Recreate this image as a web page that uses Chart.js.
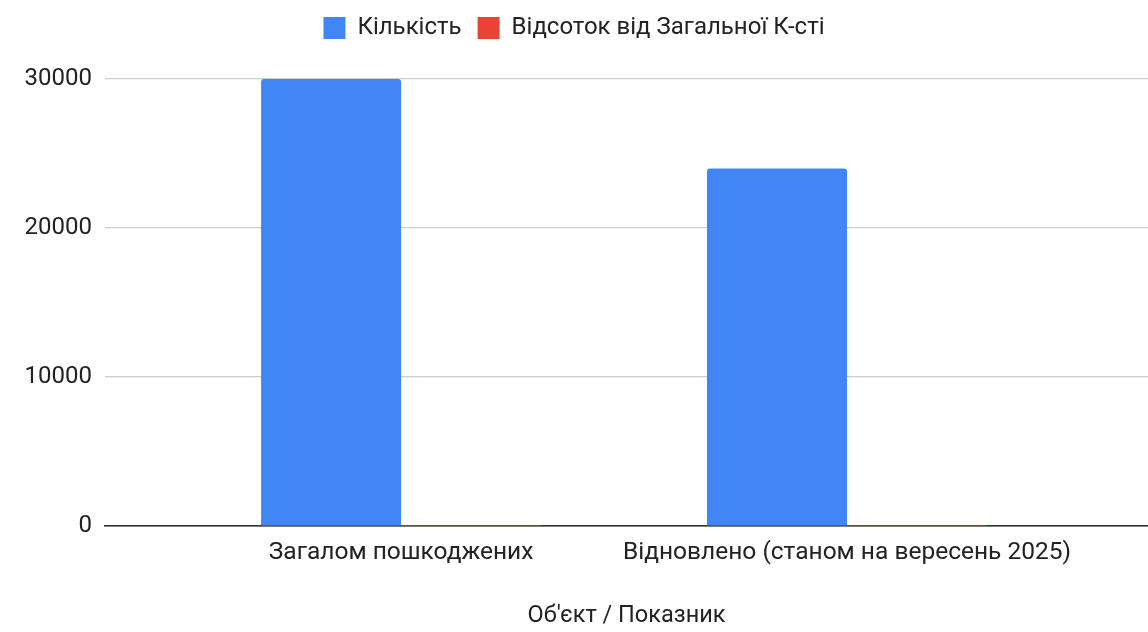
<!DOCTYPE html>
<html>
<head>
<meta charset="utf-8">
<script src="https://cdn.jsdelivr.net/npm/chart.js@4.4.1/dist/chart.umd.min.js"></script>
<style>
  html, body { margin: 0; padding: 0; background: #fff; }
  #wrap { width: 1148px; height: 632px; }
</style>
</head>
<body>
<div id="wrap"><canvas id="chart"></canvas></div>
<script>
// Damaged vs restored objects
var categories = ['Загалом пошкоджених', 'Відновлено (станом на вересень 2025)'];
var countValues = [30000, 24000];
var shareValues = [1, 0.8];
var yTicks = [0, 10000, 20000, 30000];
var seriesNames = ['Кількість', 'Відсоток від Загальної К-сті'];
var axisTitle = 'Об\'єкт / Показник';

var FONT = 'Roboto, "Noto Sans", sans-serif';

// keep the legend band a fixed height so the plot starts at the same place
var legendBand = {
    id: 'legendBand',
    beforeInit: function(chart) {
        var fit = chart.legend.fit;
        chart.legend.fit = function() {
            fit.bind(chart.legend)();
            this.height = 79;
        };
    }
};

var ctx = document.getElementById('chart').getContext('2d');

new Chart(ctx, {
    type: 'bar',
    data: {
        datasets: [{
            label: seriesNames[0],
            data: categories.map(function(c, i) { return { x: i, y: countValues[i] }; }),
            backgroundColor: '#4285f4',
            borderRadius: { topLeft: 3, topRight: 3 },
            borderSkipped: 'bottom'
        }, {
            label: seriesNames[1],
            data: categories.map(function(c, i) { return { x: i, y: shareValues[i] }; }),
            backgroundColor: '#ea4335'
        }]
    },
    options: {
        responsive: true,
        maintainAspectRatio: false,
        animation: false,
        categoryPercentage: 0.628,
        barPercentage: 1,
        layout: { padding: 0 },
        plugins: {
            tooltip: { enabled: false },
            legend: {
                position: 'top',
                labels: {
                    boxWidth: 22,
                    boxHeight: 22,
                    padding: 16,
                    color: '#222',
                    font: { family: FONT, size: 24 }
                }
            }
        },
        scales: {
            x: {
                type: 'linear',
                offset: false,
                min: -0.664,
                max: 1.675,
                afterBuildTicks: function(axis) {
                    axis.ticks = categories.map(function(c, i) { return { value: i }; });
                },
                afterFit: function(axis) {
                    axis.height = 106;
                },
                grid: { display: false, drawTicks: false },
                border: { display: true, color: '#333', width: 1.5 },
                ticks: {
                    autoSkip: false,
                    maxRotation: 0,
                    padding: 12,
                    color: '#222',
                    font: { family: FONT, size: 24.5 },
                    callback: function(value) { return categories[value]; }
                },
                title: {
                    display: true,
                    text: axisTitle,
                    color: '#222',
                    padding: { top: 0, bottom: 2 },
                    font: { family: FONT, size: 23.5 }
                }
            },
            y: {
                min: 0,
                max: 30000,
                afterBuildTicks: function(axis) {
                    axis.ticks = yTicks.map(function(v) { return { value: v }; });
                },
                afterFit: function(axis) {
                    axis.width = 105;
                },
                grid: {
                    drawTicks: false,
                    color: function(c) { return c.tick && c.tick.value === 0 ? '#333' : '#cccccc'; },
                    lineWidth: 1.2
                },
                border: { display: false },
                ticks: {
                    padding: 13,
                    color: '#222',
                    font: { family: FONT, size: 24 },
                    callback: function(value) { return String(value); }
                }
            }
        }
    },
    plugins: [legendBand]
});
</script>
</body>
</html>
